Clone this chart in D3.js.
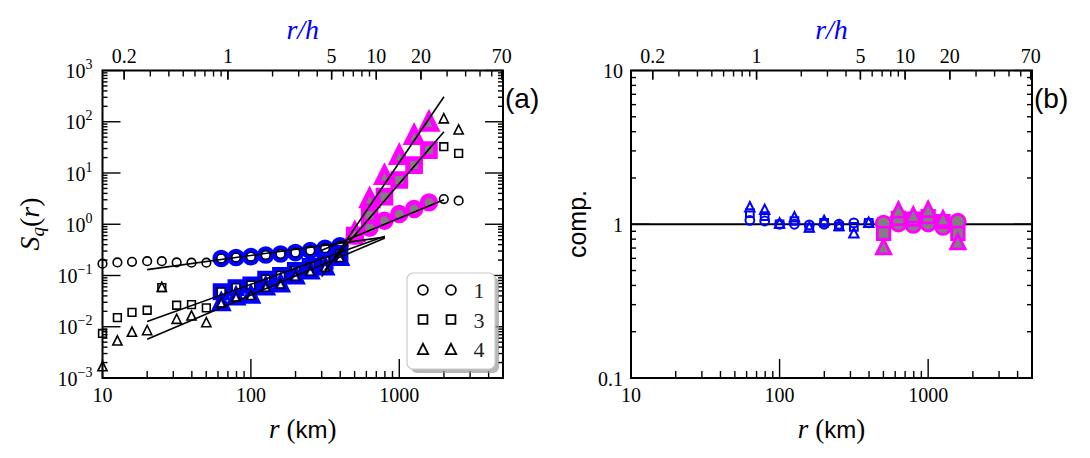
<!DOCTYPE html>
<html><head><meta charset="utf-8">
<script src="https://cdn.jsdelivr.net/npm/d3@7"></script>
<style>body{margin:0;background:#fff;} svg{display:block;}</style>
</head><body><svg id="c" width="1090" height="458"></svg>
<script>
// ---------------- data ----------------
const hScale = 70; // km, for r/h top axis
const topTickLabels = [0.2, 1, 5, 10, 20, 70];
const bottomTickLabels = [10, 100, 1000];
const leftTickExps = [-3, -2, -1, 0, 1, 2, 3];
const compTickLabels = [0.1, 1, 10];

const rBlack = [10, 12.6, 15.8, 20, 25.1, 31.6, 39.8, 50.1];
const rBlue  = [63.1, 79.4, 100, 125.9, 158.5, 199.5, 251.2, 316.2, 398.1];
const rMag   = [501.2, 631, 794.3, 1000, 1258.9, 1584.9];
const rTail  = [1995.3, 2511.9];

const S1Black = [0.17, 0.18, 0.185, 0.19, 0.19, 0.18, 0.178, 0.178];
const S1Blue  = [0.215, 0.225, 0.233, 0.251, 0.263, 0.28, 0.306, 0.34, 0.38];
const S1Mag   = [0.6, 0.85, 1.17, 1.58, 1.98, 2.67];
const S1Tail  = [3.1, 2.88];

const S3Black = [0.0074, 0.0151, 0.0191, 0.021, 0.058, 0.0263, 0.027, 0.0233];
const S3Blue  = [0.048, 0.058, 0.065, 0.085, 0.1, 0.125, 0.15, 0.19, 0.27];
const S3Mag   = [0.6, 1.5, 3.45, 7.3, 14.3, 28];
const S3Tail  = [32.6, 24.2];

const S4Black = [0.0017, 0.0054, 0.008, 0.0086, 0.06, 0.0143, 0.0166, 0.0123];
const S4Blue  = [0.030, 0.039, 0.042, 0.061, 0.070, 0.10, 0.125, 0.15, 0.23];
const S4Mag   = [0.7, 3.2, 9.1, 22.4, 55, 100];
const S4Tail  = [117, 71];

// fitted power laws (endpoints)
const fitLowR = [20, 800];
const fitLow1 = [0.13, 0.56];
const fitLow3 = [0.0126, 0.585];
const fitLow4 = [0.0057, 0.54];
const fitHigh1R = [300, 2000], fitHigh1 = [0.31, 3.0];
const fitHigh3R = [315, 2000], fitHigh3 = [0.128, 64];
const fitHigh4R = [300, 2000], fitHigh4 = [0.095, 308];

// compensated values (panel b)
const comp1Blue = [1.06, 1.05, 1.0, 1.0, 0.99, 1.0, 1.0, 1.02, 1.02];
const comp3Blue = [1.18, 1.13, 1.0, 1.05, 0.95, 1.02, 0.97, 0.96, 1.02];
const comp4Blue = [1.3, 1.25, 1.02, 1.12, 0.96, 1.06, 0.98, 0.88, 1.03];
const comp1Mag  = [1.01, 1.01, 0.99, 1.01, 0.96, 1.04];
const comp3Mag  = [0.873, 1.09, 1.08, 1.12, 1.04, 0.873];
const comp4Mag  = [0.714, 1.24, 1.15, 1.25, 1.09, 0.77];

const legendLabels = ["1", "3", "4"];
const shapes = ["circle", "square", "triangle"];

// ---------------- setup ----------------
const svg = d3.select('#c');
const BLUE = '#0000ff', MAG = '#ff00ff', GRAY = '#808080';
const SERIF = '"Liberation Serif", "DejaVu Serif", serif';
const SANS = '"Liberation Sans", Arial, sans-serif';

const PA = {x0: 102.5, x1: 503, y0: 70.5, y1: 378};
const PB = {x0: 631, x1: 1032, y0: 70.5, y1: 378};

const xA = d3.scaleLog().domain([10, 5000]).range([PA.x0, PA.x1]);
const yA = d3.scaleLog().domain([1e-3, 1e3]).range([PA.y1, PA.y0]);
const xB = d3.scaleLog().domain([10, 5000]).range([PB.x0, PB.x1]);
const yB = d3.scaleLog().domain([0.1, 10]).range([PB.y1, PB.y0]);

function shapePath(type, r) {
  if (type === 'circle') return `M${r},0A${r},${r} 0 1,1 ${-r},0A${r},${r} 0 1,1 ${r},0Z`;
  if (type === 'square') { const s = r * 0.92; return `M${-s},${-s}H${s}V${s}H${-s}Z`; }
  const a = r; return `M0,${-a}L${a},${a}L${-a},${a}Z`;
}

function logMinor(domain) {
  const out = [];
  const d0 = Math.floor(Math.log10(domain[0])), d1 = Math.ceil(Math.log10(domain[1]));
  for (let d = d0; d <= d1; d++) for (let m = 1; m <= 9; m++) {
    const v = +(m * Math.pow(10, d)).toPrecision(6);
    if (v >= domain[0] * 0.9999 && v <= domain[1] * 1.0001) out.push(v);
  }
  return out;
}

function drawFrame(P, x, y, yMajors, topScale) {
  const g = svg.append('g');
  const tk = (x1, y1, x2, y2, w) => g.append('line').attr('x1', x1).attr('y1', y1).attr('x2', x2).attr('y2', y2)
      .attr('stroke', '#000').attr('stroke-width', w || 1.4);
  logMinor(x.domain()).forEach(v => {
    const major = bottomTickLabels.includes(v);
    const xx = x(v);
    tk(xx, P.y1, xx, P.y1 - (major ? 19 : 7));
  });
  logMinor(topScale.domain()).concat(topTickLabels).forEach(v => {
    const major = topTickLabels.includes(v);
    const xx = topScale(v);
    if (xx < P.x0 - 0.5 || xx > P.x1 + 0.5) return;
    tk(xx, P.y0, xx, P.y0 + (major ? 9 : 6));
  });
  logMinor(y.domain()).forEach(v => {
    const major = yMajors.some(m => Math.abs(m - v) / m < 1e-6);
    const yy = y(v);
    tk(P.x0, yy, P.x0 + (major ? 18 : 5), yy);
    tk(P.x1, yy, P.x1 - (major ? 18 : 5), yy);
  });
  g.append('rect').attr('x', P.x0).attr('y', P.y0).attr('width', P.x1 - P.x0).attr('height', P.y1 - P.y0)
    .attr('fill', 'none').attr('stroke', '#000').attr('stroke-width', 2);
  bottomTickLabels.forEach(v => {
    g.append('text').attr('x', x(v)).attr('y', P.y1 + 24).attr('text-anchor', 'middle')
      .attr('font-family', SERIF).attr('font-size', 20).text(v);
  });
  topTickLabels.forEach(v => {
    g.append('text').attr('x', topScale(v)).attr('y', P.y0 - 8).attr('text-anchor', 'middle')
      .attr('font-family', SERIF).attr('font-size', 20).text(v);
  });
  const cx = (P.x0 + P.x1) / 2;
  g.append('text').attr('x', cx).attr('y', 39).attr('text-anchor', 'middle')
    .attr('font-family', SERIF).attr('font-size', 28).attr('font-style', 'italic').attr('fill', BLUE)
    .text('r/h');
  const b = g.append('text').attr('x', cx).attr('y', 438).attr('text-anchor', 'middle')
    .attr('font-family', SERIF).attr('font-size', 27);
  b.append('tspan').attr('font-style', 'italic').text('r');
  b.append('tspan').text(' (');
  b.append('tspan').attr('font-family', SANS).attr('font-size', 24).text('km');
  b.append('tspan').text(')');
  return g;
}

const topA = d3.scaleLog().domain([10 / hScale, 5000 / hScale]).range([PA.x0, PA.x1]);
const topB = d3.scaleLog().domain([10 / hScale, 5000 / hScale]).range([PB.x0, PB.x1]);

// ---------------- panel (a) ----------------
const gA = drawFrame(PA, xA, yA, leftTickExps.map(e => Math.pow(10, e)), topA);
leftTickExps.forEach(e => {
  const t = gA.append('text').attr('x', PA.x0 - 10).attr('y', yA(Math.pow(10, e)) + 7.5)
    .attr('text-anchor', 'end').attr('font-family', SERIF).attr('font-size', 20);
  t.append('tspan').text('10');
  t.append('tspan').attr('font-size', 14).attr('dy', -9).text(e < 0 ? '\u2212' + (-e) : String(e));
});

const pA = svg.append('g');
const SA = [
  {shape: 'circle', black: S1Black, blue: S1Blue, mag: S1Mag, tail: S1Tail},
  {shape: 'square', black: S3Black, blue: S3Blue, mag: S3Mag, tail: S3Tail},
  {shape: 'triangle', black: S4Black, blue: S4Blue, mag: S4Mag, tail: S4Tail}
];
const openSize = {circle: 4.3, square: 4.2, triangle: 4.6};
function mark(g, type, r, cx, cy, stroke, fill, sw) {
  g.append('path').attr('d', shapePath(type, r)).attr('transform', `translate(${cx},${cy})`)
    .attr('fill', fill).attr('stroke', stroke).attr('stroke-width', sw).attr('stroke-linejoin', 'miter');
}
SA.forEach(s => {
  rBlack.forEach((r, i) => mark(pA, s.shape, openSize[s.shape], xA(r), yA(s.black[i]), '#000', 'none', 1.6));
  rTail.forEach((r, i) => mark(pA, s.shape, openSize[s.shape], xA(r), yA(s.tail[i]), '#000', 'none', 1.6));
});
SA.forEach(s => {
  const big = {circle: 6.4, square: 6.6, triangle: 6.6}[s.shape];
  rBlue.forEach((r, i) => mark(pA, s.shape, big, xA(r), yA(s.blue[i]), BLUE, '#fff', 4.8));
  rBlue.forEach((r, i) => mark(pA, s.shape, openSize[s.shape], xA(r), yA(s.blue[i]), '#000', 'none', 1.4));
});
SA.forEach(s => {
  const big = {circle: 6.8, square: 7.0, triangle: 7.6}[s.shape];
  rMag.forEach((r, i) => mark(pA, s.shape, big, xA(r), yA(s.mag[i]), MAG, GRAY, 4.8));
});

const fits = [
  [fitLowR, fitLow1], [fitLowR, fitLow3], [fitLowR, fitLow4],
  [fitHigh1R, fitHigh1], [fitHigh3R, fitHigh3], [fitHigh4R, fitHigh4]
];
fits.forEach(([rr, ss]) => {
  pA.append('line').attr('x1', xA(rr[0])).attr('y1', yA(ss[0])).attr('x2', xA(rr[1])).attr('y2', yA(ss[1]))
    .attr('stroke', '#000').attr('stroke-width', 1.6);
});

// legend
const lg = svg.append('g');
lg.append('rect').attr('x', 411).attr('y', 277).attr('width', 88).attr('height', 96).attr('rx', 6)
  .attr('fill', '#999').attr('opacity', 0.7);
lg.append('rect').attr('x', 407).attr('y', 273).attr('width', 88).attr('height', 96).attr('rx', 6)
  .attr('fill', '#fff').attr('stroke', '#ccc').attr('stroke-width', 1.2);
shapes.forEach((sh, i) => {
  const yy = 290 + i * 29.5;
  mark(lg, sh, openSize[sh] + 0.6, 423, yy, '#000', 'none', 1.8);
  mark(lg, sh, openSize[sh] + 0.6, 451, yy, '#000', 'none', 1.8);
  lg.append('text').attr('x', 479).attr('y', yy + 8).attr('text-anchor', 'middle')
    .attr('font-family', SERIF).attr('font-size', 22).attr('fill', '#222').text(legendLabels[i]);
});

// titles panel a
const yl = svg.append('text').attr('transform', 'translate(39,224) rotate(-90)').attr('text-anchor', 'middle')
  .attr('font-family', SERIF).attr('font-size', 28);
yl.append('tspan').attr('font-style', 'italic').text('S');
yl.append('tspan').attr('font-style', 'italic').attr('font-size', 19).attr('dy', 5).text('q');
yl.append('tspan').attr('dy', -5).text('(');
yl.append('tspan').attr('font-style', 'italic').text('r');
yl.append('tspan').text(')');
svg.append('text').attr('x', 505).attr('y', 108).attr('font-family', SANS).attr('font-size', 28).text('(a)');

// ---------------- panel (b) ----------------
const gB = drawFrame(PB, xB, yB, compTickLabels, topB);
compTickLabels.forEach(v => {
  gB.append('text').attr('x', PB.x0 - 8).attr('y', yB(v) + 7.5).attr('text-anchor', 'end')
    .attr('font-family', SERIF).attr('font-size', 20).text(v);
});
const pB = svg.append('g');
pB.append('line').attr('x1', PB.x0).attr('x2', PB.x1).attr('y1', yB(1)).attr('y2', yB(1))
  .attr('stroke', '#000').attr('stroke-width', 1.8);
const SB = [
  {shape: 'circle', blue: comp1Blue, mag: comp1Mag},
  {shape: 'square', blue: comp3Blue, mag: comp3Mag},
  {shape: 'triangle', blue: comp4Blue, mag: comp4Mag}
];
SB.forEach(s => {
  const sz = {circle: 4.4, square: 4.2, triangle: 4.7}[s.shape];
  rBlue.forEach((r, i) => mark(pB, s.shape, sz, xB(r), yB(s.blue[i]), BLUE, 'none', 2));
});
SB.forEach(s => {
  const sz = {circle: 7.4, square: 6.8, triangle: 7.2}[s.shape];
  rMag.forEach((r, i) => mark(pB, s.shape, sz, xB(r), yB(s.mag[i]), MAG, GRAY, 2.8));
});
svg.append('text').attr('transform', 'translate(586,224) rotate(-90)').attr('text-anchor', 'middle')
  .attr('font-family', SANS).attr('font-size', 25).text('comp.');
svg.append('text').attr('x', 1034).attr('y', 108).attr('font-family', SANS).attr('font-size', 28).text('(b)');
</script>
</body></html>
